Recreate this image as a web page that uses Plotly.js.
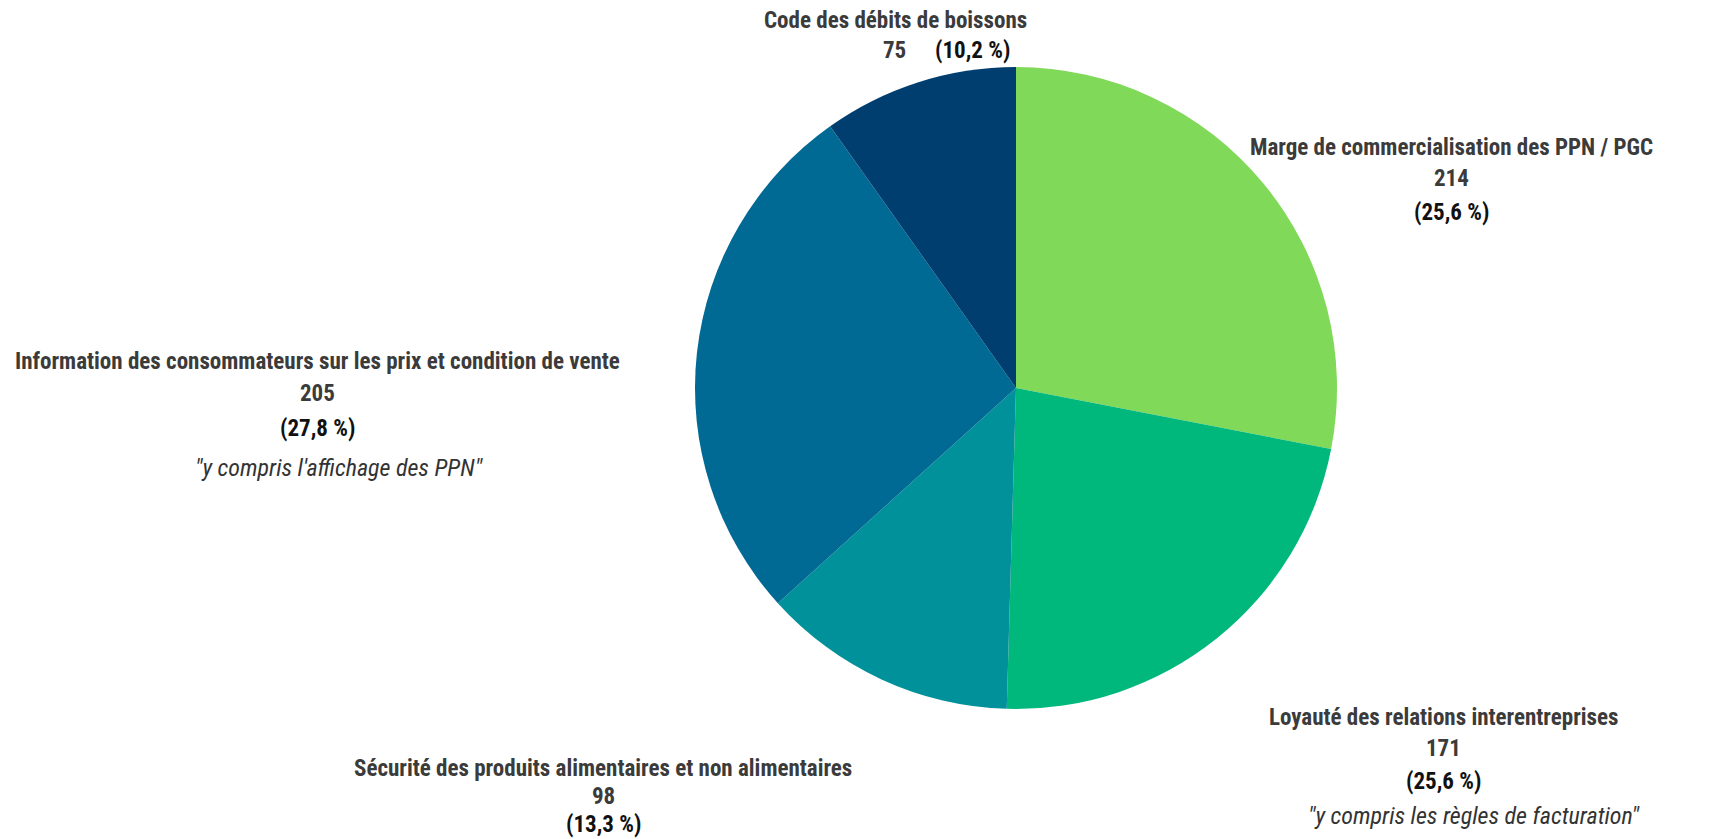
<!DOCTYPE html>
<html><head><meta charset="utf-8">
<script src="https://cdn.plot.ly/plotly-3.0.1.min.js"></script>
<style>html,body{margin:0;padding:0;background:#fff;}</style>
</head><body>
<div id="chart" style="width:1731px;height:839px;"></div>
<script>
const categories = [
  "Marge de commercialisation des PPN / PGC",
  "Loyauté des relations interentreprises",
  "Sécurité des produits alimentaires et non alimentaires",
  "Information des consommateurs sur les prix et condition de vente",
  "Code des débits de boissons"
];
const values = [214, 171, 98, 205, 75];
const percentLabels = ["(25,6 %)", "(25,6 %)", "(13,3 %)", "(27,8 %)", "(10,2 %)"];
const notes = ["", "\"y compris les règles de facturation\"", "", "\"y compris l'affichage des PPN\"", ""];
const colors = ["#80D958", "#00B87C", "#00919A", "#006994", "#003E6F"];

const W = 1731, H = 839;
const FONT = "'Roboto Condensed', 'Liberation Sans Narrow', 'DejaVu Sans Condensed', Roboto, sans-serif";
const px = x => x / W;
const py = y => 1 - y / H;

// label anchor positions (pixels): [centerX, line1Y, line2Y, line3Y, line4Y, noteX]
const pos = [
  [1451, 148, 178, 212, null, null],
  [1443, 717, 748, 781, 816, 1474],
  [603, 768, 796, 824, null, null],
  [317, 361, 393, 428, 468, 339],
  [895, 21, 51, 51, null, null]
];

const ann = [];
function add(text, x, y, opts) {
  ann.push(Object.assign({
    text: text, x: px(x), y: py(y), xref: 'paper', yref: 'paper',
    showarrow: false, xanchor: 'center', yanchor: 'middle', borderpad: 0,
    font: {family: FONT, size: 23, color: '#3b3b3b', weight: 700}
  }, opts || {}));
}
const pctFont = {family: FONT, size: 23, color: '#111', weight: 700};
const noteFont = {family: FONT, size: 24, color: '#333', style: 'italic', weight: 400};
categories.forEach((c, i) => {
  const p = pos[i];
  add(c, p[0], p[1]);
  if (i === 4) {
    add(String(values[i]), 894, p[2]);
    add(percentLabels[i], 972, p[3], {font: pctFont});
  } else {
    add(String(values[i]), p[0], p[2]);
    add(percentLabels[i], p[0], p[3], {font: pctFont});
    if (notes[i]) add(notes[i], p[5], p[4], {font: noteFont});
  }
});

const cx = 1016, cy = 388, r = 321;
const data = [{
  type: 'pie',
  labels: categories,
  values: values,
  sort: false,
  direction: 'clockwise',
  rotation: 0,
  textinfo: 'none',
  hoverinfo: 'label+value',
  marker: {colors: colors, line: {width: 0}},
  domain: {x: [(cx - r) / W, (cx + r) / W], y: [1 - (cy + r) / H, 1 - (cy - r) / H]}
}];
const layout = {
  width: W, height: H,
  margin: {l: 0, r: 0, t: 0, b: 0},
  showlegend: false,
  paper_bgcolor: '#fff',
  annotations: ann
};
Plotly.newPlot('chart', data, layout, {displayModeBar: false, staticPlot: true});
</script>
</body></html>
